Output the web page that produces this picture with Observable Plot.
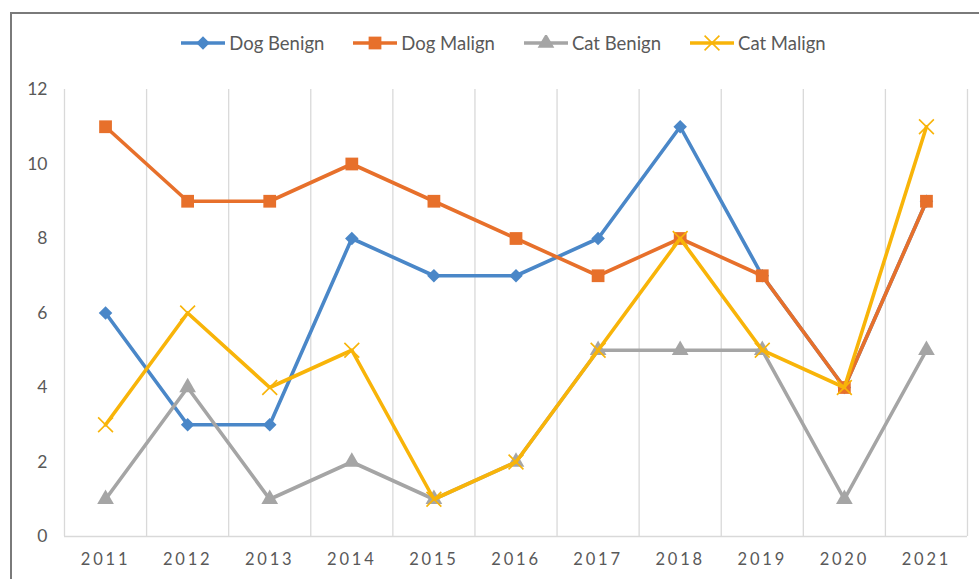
<!DOCTYPE html>
<html>
<head>
<meta charset="utf-8">
<script src="https://cdn.jsdelivr.net/npm/d3@7"></script>
<script src="https://cdn.jsdelivr.net/npm/@observablehq/plot@0.6"></script>
<style>
  html, body { margin: 0; padding: 0; background: #fff; width: 979px; height: 579px; overflow: hidden; }
  #frame { position: absolute; left: 10px; top: 12px; width: 1000px; height: 620px;
           border-left: 2px solid #7a7a7a; border-top: 2px solid #7a7a7a; box-sizing: border-box; }
  #chart { position: absolute; left: 0; top: 0; }
  #legend { position: absolute; top: 32px; left: 0; width: 1006px; display: flex; justify-content: center; gap: 28px;
            font-family: Lato, "Open Sans", sans-serif; font-size: 18.5px; color: #595959; }
  #legend .item { display: flex; align-items: center; gap: 3px; }
  #chart svg text { font-family: Lato, "Open Sans", sans-serif; }
  #chart g[aria-label="y-axis tick label"] text { font-size: 17.5px; }
  #chart g[aria-label="x-axis tick label"] text { font-size: 16.5px; letter-spacing: 2.8px; }
</style>
</head>
<body>
<div id="frame"></div>
<div id="chart"></div>
<div id="legend"></div>
<script>
const years = [2011, 2012, 2013, 2014, 2015, 2016, 2017, 2018, 2019, 2020, 2021];
const dogBenign = [6, 3, 3, 8, 7, 7, 8, 11, 7, 4, 9];
const dogMalign = [11, 9, 9, 10, 9, 8, 7, 8, 7, 4, 9];
const catBenign = [1, 4, 1, 2, 1, 2, 5, 5, 5, 1, 5];
const catMalign = [3, 6, 4, 5, 1, 2, 5, 8, 5, 4, 11];
const seriesNames = ["Dog Benign", "Dog Malign", "Cat Benign", "Cat Malign"];
const yTicks = [0, 2, 4, 6, 8, 10, 12];

const colors = ["#4A87C8", "#E7702B", "#A5A5A5", "#F8B409"];
const seriesValues = [dogBenign, dogMalign, catBenign, catMalign];
const markers = [
  {symbol: "square", r: 5.4, rotate: 45, fill: true},
  {symbol: "square", r: 7.2, rotate: 0, fill: true},
  {symbol: "triangle", r: 6.2, rotate: 0, fill: true},
  {symbol: "times", r: 6.8, rotate: 0, fill: false}
];

const bounds = years.map(y => y - 0.5).concat([years[years.length - 1] + 0.5]);

const marks = [
  Plot.ruleX(bounds, {y1: 0, y2: 12, stroke: "#d9d9d9", strokeWidth: 1.3}),
  Plot.ruleY([0], {stroke: "#d9d9d9", strokeWidth: 1.3})
];
seriesValues.forEach((vals, i) => {
  const data = years.map((yr, j) => ({year: yr, value: vals[j]}));
  marks.push(Plot.line(data, {x: "year", y: "value", stroke: colors[i], strokeWidth: 3.6, strokeLinejoin: "round"}));
  const m = markers[i];
  marks.push(Plot.dot(data, {
    x: "year", y: "value", symbol: m.symbol, r: m.r, rotate: m.rotate,
    fill: m.fill ? colors[i] : "none",
    stroke: m.fill ? "none" : colors[i],
    strokeWidth: m.fill ? 0 : 1.6
  }));
});

const plot = Plot.plot({
  width: 979,
  height: 579,
  marginTop: 89,
  marginBottom: 43,
  marginLeft: 64,
  marginRight: 12,
  style: {background: "transparent", fontSize: "16px", color: "#595959", overflow: "visible"},
  x: {domain: [2010.5, 2021.5], ticks: years, tickFormat: d => String(d), tickSize: 0, tickPadding: 17, label: null},
  y: {domain: [0, 12], ticks: yTicks, tickSize: 0, tickPadding: 17, label: null},
  marks
});
document.getElementById("chart").appendChild(plot);

// legend
const legend = d3.select("#legend");
seriesNames.forEach((name, i) => {
  const item = legend.append("div").attr("class", "item");
  const svg = item.append("svg").attr("width", 46).attr("height", 16);
  svg.append("line").attr("x1", 1).attr("x2", 45).attr("y1", 8).attr("y2", 8)
    .attr("stroke", colors[i]).attr("stroke-width", 3.6);
  const m = markers[i];
  const sym = {square: d3.symbolSquare, triangle: d3.symbolTriangle, times: d3.symbolTimes}[m.symbol];
  svg.append("path")
    .attr("d", d3.symbol(sym, m.r * m.r * Math.PI)())
    .attr("transform", `translate(23,8) rotate(${m.rotate})`)
    .attr("fill", m.fill ? colors[i] : "none")
    .attr("stroke", m.fill ? "none" : colors[i])
    .attr("stroke-width", m.fill ? 0 : 1.6);
  item.append("span").text(name);
});
</script>
</body>
</html>
